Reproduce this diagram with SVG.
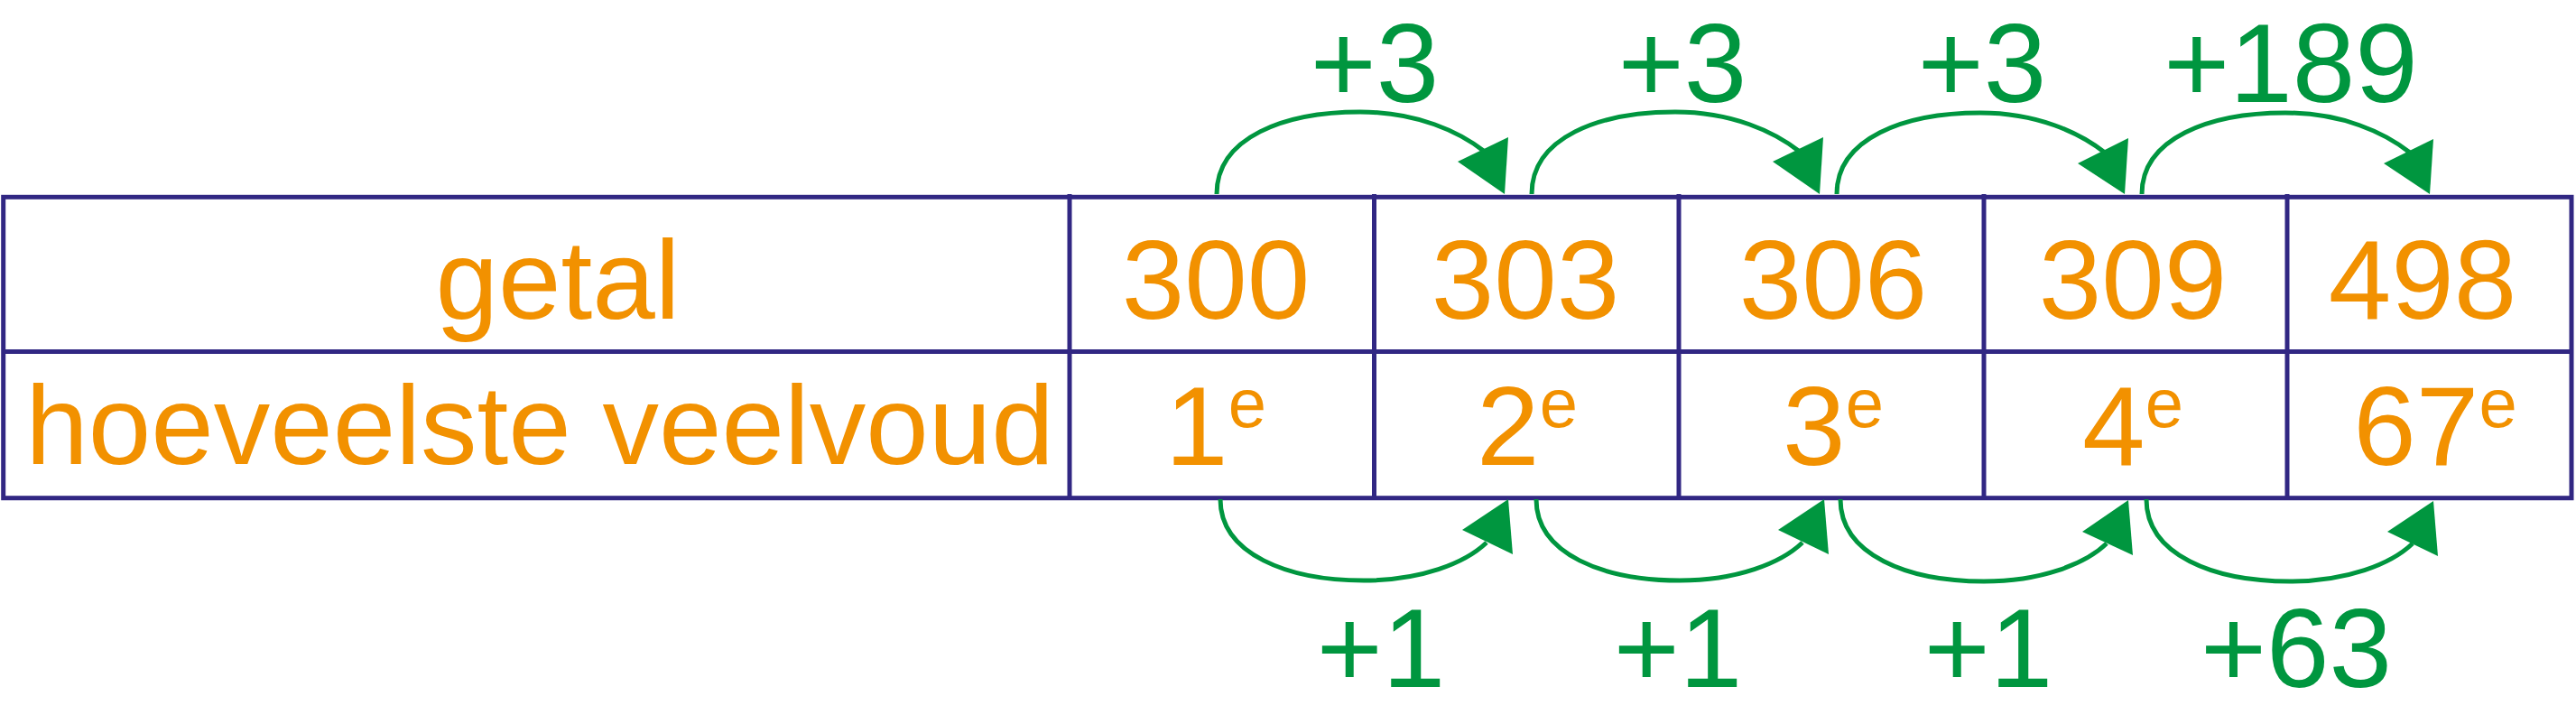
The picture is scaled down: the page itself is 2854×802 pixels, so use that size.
<svg xmlns="http://www.w3.org/2000/svg" width="2854" height="802" viewBox="0 0 2854 802">
<style>
.grid{fill:none;stroke:#312783;stroke-width:5}
.cell{font-family:"Liberation Sans",Arial,Helvetica,sans-serif;font-size:125px;fill:#F29100;text-anchor:middle}
.sup{font-size:76px}
.lbl{font-family:"Liberation Sans",Arial,Helvetica,sans-serif;font-size:125px;fill:#00963F;text-anchor:middle}
.arc{fill:none;stroke:#00963F;stroke-width:5}
.head{fill:#00963F;stroke:none}
</style>
<rect width="2854" height="802" fill="#ffffff"/>
<g id="table">
  <rect class="grid" x="3.7" y="218.3" width="2845.3" height="333.4"/>
  <line class="grid" x1="3.7" y1="389.5" x2="2849" y2="389.5"/>
  <line class="grid" x1="1185" y1="215" x2="1185" y2="554"/>
  <line class="grid" x1="1522.5" y1="215" x2="1522.5" y2="554"/>
  <line class="grid" x1="1860" y1="215" x2="1860" y2="554"/>
  <line class="grid" x1="2198" y1="215" x2="2198" y2="554"/>
  <line class="grid" x1="2534" y1="215" x2="2534" y2="554"/>
</g>
<g id="row-headers">
  <text class="cell" x="618" y="353">getal</text>
  <text class="cell" x="598" y="514">hoeveelste veelvoud</text>
</g>
<g id="col1">
  <text class="cell" x="1347" y="353">300</text>
  <text class="cell" x="1347" y="515">1<tspan class="sup" dy="-42">e</tspan></text>
</g>
<g id="col2">
  <text class="cell" x="1690" y="353">303</text>
  <text class="cell" x="1692" y="515">2<tspan class="sup" dy="-42">e</tspan></text>
</g>
<g id="col3">
  <text class="cell" x="2031" y="353">306</text>
  <text class="cell" x="2031" y="515">3<tspan class="sup" dy="-42">e</tspan></text>
</g>
<g id="col4">
  <text class="cell" x="2363" y="353">309</text>
  <text class="cell" x="2363" y="515">4<tspan class="sup" dy="-42">e</tspan></text>
</g>
<g id="col5">
  <text class="cell" x="2684" y="353">498</text>
  <text class="cell" x="2698" y="515">67<tspan class="sup" dy="-42">e</tspan></text>
</g>
<g id="connectors">
  <g id="top-arcs">
    <path class="arc" d="M1348,215 C1348,152 1423,124 1507,124 C1570,124 1617,146 1645,168"/>
    <polygon class="head" points="1667,215 1671,152 1615,179"/>
    <path class="arc" d="M1697,215 C1697,152 1772,124 1856,124 C1919,124 1966,146 1994,168"/>
    <polygon class="head" points="2016,215 2020,152 1964,179"/>
    <path class="arc" d="M2035,215 C2035,153 2110,125 2194,125 C2257,125 2304,147 2332,169"/>
    <polygon class="head" points="2354,215 2358,153 2302,181"/>
    <path class="arc" d="M2373,215 C2373,153 2448,125 2532,125 C2595,125 2642,147 2670,169"/>
    <polygon class="head" points="2692,215 2696,154 2641,181"/>
  </g>
  <g id="bottom-arcs">
    <path class="arc" d="M1352,553 C1352,614 1427,643 1511,643 C1574,643 1623,624 1647,601"/>
    <polygon class="head" points="1671,553 1676,614 1620,587"/>
    <path class="arc" d="M1702,553 C1702,614 1777,643 1861,643 C1924,643 1973,624 1997,601"/>
    <polygon class="head" points="2021,553 2026,614 1970,587"/>
    <path class="arc" d="M2039,553 C2039,615 2114,644 2198,644 C2261,644 2310,625 2334,602"/>
    <polygon class="head" points="2358,554 2363,615 2307,589"/>
    <path class="arc" d="M2378,553 C2378,615 2453,644 2537,644 C2600,644 2649,625 2673,602"/>
    <polygon class="head" points="2696,555 2701,616 2645,589"/>
  </g>
  <g id="labels">
    <text class="lbl" x="1523" y="113">+3</text>
    <text class="lbl" x="1864" y="113">+3</text>
    <text class="lbl" x="2196" y="113">+3</text>
    <text class="lbl" x="2538" y="113">+189</text>
    <text class="lbl" x="1530" y="761">+1</text>
    <text class="lbl" x="1859" y="761">+1</text>
    <text class="lbl" x="2203" y="761">+1</text>
    <text class="lbl" x="2544" y="761">+63</text>
  </g>
</g>
</svg>
